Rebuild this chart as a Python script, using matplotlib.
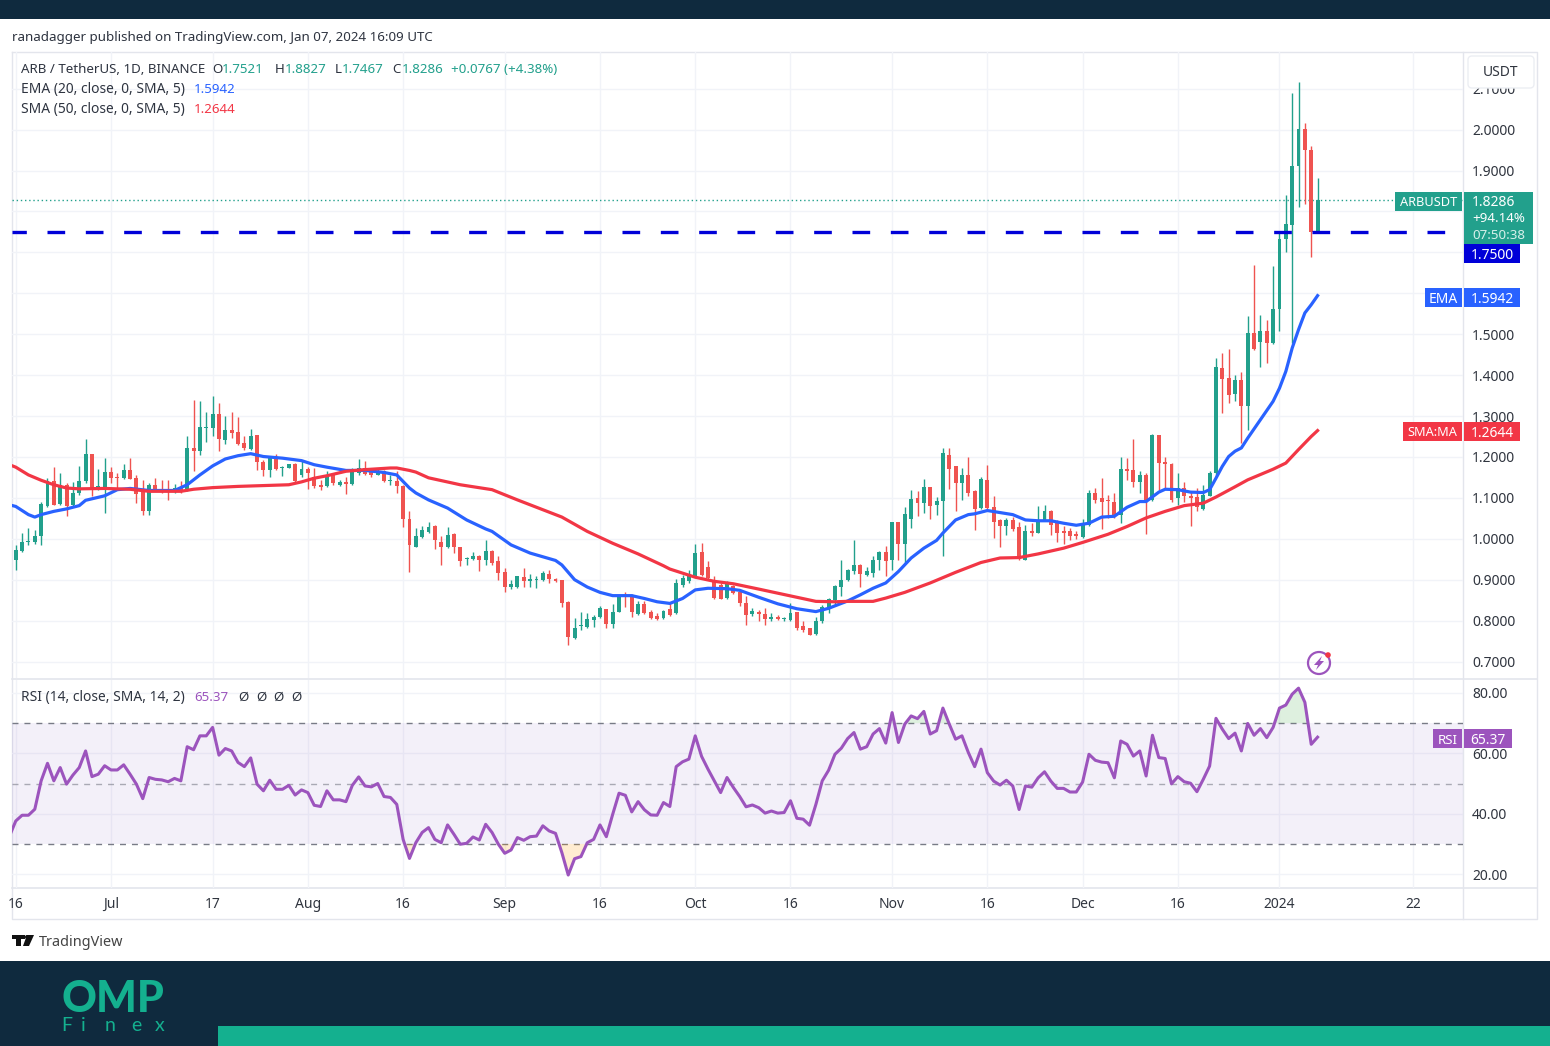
from matplotlib import pyplot as plt
from matplotlib.patches import Circle, FancyBboxPatch, Polygon, Rectangle
import numpy as np

W, H = 1550, 1046

# candles, one per day, Jun 16 2023 (day -15) to Jan 7 2024 (day 190), day 0 = Jul 1
opens = [
    .949, .971, .993, .993, 1.006, 1.081, 1.140, 1.086, 1.132, 1.083,
    1.112, 1.140, 1.208, 1.121, 1.126, 1.163, 1.151, 1.148, 1.169, 1.148,
    1.116, 1.067, 1.132, 1.121, 1.121, 1.116, 1.124, 1.120, 1.222, 1.214,
    1.271, 1.271, 1.305, 1.242, 1.267, 1.262, 1.234, 1.220, 1.253, 1.187,
    1.167, 1.200, 1.173, 1.174, 1.183, 1.155, 1.170, 1.150, 1.132, 1.128,
    1.155, 1.132, 1.139, 1.133, 1.161, 1.173, 1.162, 1.156, 1.165, 1.140,
    1.142, 1.130, 1.048, .981, 1.004, 1.017, 1.032, .993, .980, 1.011,
    .980, .950, .950, .958, .947, .971, .945, .918, .882, .882,
    .906, .896, .900, .900, .914, .901, .898, .846, .757, .786,
    .784, .802, .808, .828, .792, .822, .863, .863, .817, .841,
    .820, .812, .807, .828, .818, .888, .896, .908, .967, .932,
    .900, .888, .855, .885, .870, .844, .816, .822, .817, .804,
    .808, .804, .802, .821, .787, .782, .767, .798, .830, .851,
    .883, .900, .920, .936, .911, .916, .947, .967, .949, 1.042,
    .988, 1.048, 1.099, 1.087, 1.126, 1.082, 1.093, 1.205, 1.177, 1.136,
    1.155, 1.117, 1.075, 1.144, 1.077, 1.045, 1.030, 1.046, 1.028, .949,
    1.019, 1.015, 1.046, 1.067, 1.038, 1.018, 1.018, 1.011, 1.004, 1.033,
    1.112, 1.099, 1.095, 1.091, 1.059, 1.171, 1.167, 1.138, 1.155, 1.095,
    1.253, 1.187, 1.183, 1.099, 1.124, 1.105, 1.102, 1.073, 1.105, 1.161,
    1.417, 1.393, 1.355, 1.387, 1.325, 1.503, 1.482, 1.509, 1.478, 1.562,
    1.733, 1.768, 1.910, 2.002, 1.949, 1.7521,
]
highs = [
    .985, 1.014, 1.026, 1.022, 1.089, 1.148, 1.175, 1.161, 1.136, 1.138,
    1.178, 1.244, 1.208, 1.170, 1.197, 1.175, 1.161, 1.183, 1.197, 1.156,
    1.143, 1.136, 1.148, 1.144, 1.144, 1.134, 1.140, 1.250, 1.340, 1.336,
    1.309, 1.350, 1.333, 1.299, 1.311, 1.297, 1.252, 1.268, 1.253, 1.193,
    1.203, 1.208, 1.178, 1.183, 1.185, 1.193, 1.175, 1.173, 1.144, 1.165,
    1.156, 1.144, 1.152, 1.173, 1.195, 1.191, 1.165, 1.173, 1.169, 1.156,
    1.165, 1.132, 1.069, 1.026, 1.032, 1.040, 1.034, 1.006, 1.029, 1.014,
    .981, .955, .967, .961, .998, .973, .959, .928, .900, .910,
    .928, .914, .910, .920, .923, .903, .900, .848, .806, .822,
    .818, .814, .836, .828, .841, .863, .869, .865, .847, .847,
    .826, .818, .826, .843, .901, .912, .924, .987, .989, .946,
    .908, .892, .896, .888, .874, .859, .830, .825, .830, .818,
    .814, .810, .843, .822, .798, .783, .810, .839, .855, .888,
    .949, .927, .998, .938, .932, .957, .969, .983, 1.042, 1.042,
    1.077, 1.120, 1.116, 1.146, 1.126, 1.102, 1.222, 1.222, 1.178, 1.173,
    1.199, 1.120, 1.151, 1.181, 1.104, 1.048, 1.051, 1.053, 1.042, 1.034,
    1.038, 1.081, 1.083, 1.071, 1.046, 1.030, 1.026, 1.018, 1.048, 1.120,
    1.124, 1.148, 1.108, 1.112, 1.201, 1.197, 1.244, 1.165, 1.161, 1.257,
    1.254, 1.201, 1.185, 1.161, 1.138, 1.116, 1.124, 1.132, 1.165, 1.442,
    1.454, 1.464, 1.401, 1.407, 1.544, 1.670, 1.548, 1.535, 1.666, 1.747,
    1.839, 2.090, 2.116, 2.016, 1.959, 1.8827,
]
lows = [
    .924, .968, .984, .988, .984, 1.077, 1.083, 1.083, 1.055, 1.081,
    1.108, 1.136, 1.104, 1.120, 1.064, 1.136, 1.124, 1.147, 1.146, 1.087,
    1.059, 1.059, 1.116, 1.112, 1.095, 1.112, 1.112, 1.116, 1.165, 1.205,
    1.236, 1.250, 1.214, 1.232, 1.246, 1.229, 1.216, 1.218, 1.169, 1.154,
    1.151, 1.167, 1.154, 1.174, 1.138, 1.152, 1.121, 1.124, 1.118, 1.126,
    1.132, 1.130, 1.110, 1.131, 1.156, 1.156, 1.151, 1.155, 1.138, 1.132,
    1.113, 1.028, .918, .980, 1.002, 1.015, .975, .935, .977, .965,
    .934, .936, .947, .920, .935, .936, .900, .871, .877, .880,
    .882, .882, .880, .897, .892, .895, .833, .741, .755, .776,
    .783, .784, .806, .782, .783, .821, .833, .810, .814, .817,
    .804, .802, .805, .812, .817, .883, .893, .906, .910, .900,
    .852, .852, .852, .865, .836, .790, .812, .798, .790, .800,
    .802, .800, .800, .778, .773, .764, .765, .795, .818, .836,
    .859, .896, .914, .881, .908, .906, .924, .910, .924, .949,
    .941, 1.026, 1.055, 1.064, 1.048, 1.059, .958, 1.121, 1.069, 1.094,
    1.105, 1.022, 1.073, 1.073, 1.002, .981, 1.008, 1.020, .949, .947,
    1.007, 1.014, 1.044, 1.010, .993, .988, .996, .999, 1.002, 1.032,
    1.087, 1.024, 1.051, 1.051, 1.038, 1.144, 1.126, 1.112, 1.012, 1.093,
    1.120, 1.124, 1.091, 1.083, 1.089, 1.032, 1.067, 1.071, 1.104, 1.150,
    1.307, 1.333, 1.336, 1.234, 1.267, 1.462, 1.419, 1.430, 1.477, 1.509,
    1.700, 1.478, 1.811, 1.819, 1.689, 1.7467,
]
closes = [
    .973, .993, .995, 1.006, 1.086, 1.140, 1.083, 1.132, 1.079, 1.112,
    1.140, 1.208, 1.124, 1.128, 1.163, 1.148, 1.148, 1.169, 1.147, 1.110,
    1.067, 1.132, 1.121, 1.116, 1.116, 1.124, 1.116, 1.222, 1.214, 1.272,
    1.274, 1.305, 1.245, 1.267, 1.258, 1.231, 1.222, 1.252, 1.187, 1.167,
    1.201, 1.170, 1.175, 1.183, 1.142, 1.170, 1.161, 1.130, 1.126, 1.156,
    1.136, 1.139, 1.134, 1.167, 1.173, 1.158, 1.156, 1.163, 1.140, 1.144,
    1.128, 1.048, .985, 1.006, 1.022, 1.029, .996, .981, 1.010, .980,
    .946, .953, .957, .949, .971, .941, .916, .882, .890, .908,
    .896, .902, .901, .916, .901, .896, .844, .761, .783, .790,
    .804, .808, .830, .792, .822, .863, .859, .822, .841, .818,
    .806, .805, .824, .814, .892, .904, .910, .965, .912, .904,
    .855, .853, .892, .867, .843, .814, .824, .817, .804, .810,
    .804, .806, .818, .782, .778, .765, .800, .833, .852, .885,
    .900, .924, .936, .914, .920, .949, .967, .945, 1.042, .988,
    1.060, 1.097, 1.087, 1.126, 1.081, 1.092, 1.209, 1.170, 1.136, 1.155,
    1.112, 1.073, 1.146, 1.075, 1.042, 1.030, 1.046, 1.024, .950, 1.020,
    1.014, 1.046, 1.067, 1.034, 1.015, 1.014, 1.007, 1.006, 1.036, 1.112,
    1.095, 1.090, 1.092, 1.059, 1.171, 1.165, 1.138, 1.155, 1.094, 1.253,
    1.185, 1.183, 1.095, 1.124, 1.104, 1.099, 1.077, 1.108, 1.161, 1.419,
    1.390, 1.352, 1.387, 1.325, 1.503, 1.465, 1.509, 1.478, 1.562, 1.733,
    1.770, 1.912, 2.002, 1.949, 1.749, 1.8286,
]

ema_days = [
    -16, -15, -13, -12, -11, -9, -7, -5, -4, -1, 1, 3, 6, 10, 12, 14, 16, 18, 20, 22,
    24, 27, 30, 32, 34, 37, 40, 43, 45, 47, 48, 50, 53, 56, 59, 60, 63, 66, 70, 71,
    73, 75, 77, 79, 82, 84, 86, 88, 90, 92, 94, 97, 99, 102, 105, 108, 111, 113, 116, 118,
    120, 122, 124, 126, 128, 130, 131, 133, 135, 136, 138, 140, 142, 144, 146, 148, 150, 152, 154, 156,
    158, 160, 162, 163, 165, 166, 168, 170, 172, 173, 174, 175, 176, 177, 178, 179, 181, 183, 184, 185,
    186, 187, 188, 189, 190,
]
ema_values = [
    1.083, 1.079, 1.059, 1.053, 1.059, 1.067, 1.073, 1.081, 1.094, 1.105, 1.120, 1.123, 1.118, 1.118, 1.132, 1.156, 1.178, 1.195, 1.203, 1.208,
    1.201, 1.197, 1.191, 1.181, 1.175, 1.167, 1.167, 1.162, 1.156, 1.124, 1.112, 1.095, 1.075, 1.046, 1.024, 1.018, .985, .965, .947, .936,
    .900, .882, .869, .861, .861, .854, .846, .842, .854, .875, .879, .878, .874, .857, .841, .829, .822, .830, .848, .863,
    .879, .892, .920, .953, .977, .996, 1.014, 1.046, 1.059, 1.061, 1.069, 1.064, 1.059, 1.046, 1.044, 1.044, 1.038, 1.033, 1.038, 1.053,
    1.055, 1.077, 1.091, 1.091, 1.114, 1.121, 1.120, 1.114, 1.113, 1.120, 1.148, 1.177, 1.201, 1.214, 1.222, 1.246, 1.291, 1.336, 1.368, 1.409,
    1.466, 1.511, 1.552, 1.572, 1.5942,
]
sma_days = [
    -16, -15, -13, -11, -9, -7, -5, -1, 3, 6, 11, 13, 16, 20, 24, 28, 30, 32, 34, 37,
    40, 44, 45, 47, 48, 50, 55, 60, 64, 71, 75, 79, 83, 87, 88, 92, 95, 98, 102, 105,
    108, 111, 114, 116, 120, 122, 125, 129, 133, 137, 140, 143, 146, 150, 153, 157, 160, 163, 166, 169,
    172, 174, 177, 179, 183, 185, 187, 189, 190,
]
sma_values = [
    1.181, 1.175, 1.156, 1.143, 1.132, 1.124, 1.122, 1.123, 1.121, 1.116, 1.116, 1.121, 1.125, 1.128, 1.130, 1.132, 1.139, 1.148, 1.154, 1.165,
    1.169, 1.173, 1.173, 1.167, 1.163, 1.149, 1.132, 1.120, 1.095, 1.053, 1.018, .989, .963, .934, .926, .906, .896, .890, .877, .867,
    .857, .847, .846, .847, .847, .855, .869, .892, .918, .942, .953, .954, .963, .977, .991, 1.011, 1.030, 1.051, 1.067, 1.081,
    1.087, 1.102, 1.127, 1.144, 1.170, 1.185, 1.218, 1.250, 1.2644,
]

# RSI starts one day earlier, its line runs to the left edge of the pane
rsi_values = [
    32.5,
    37.6, 39.5, 39.5, 41.5, 50.9, 56.7, 50.9, 55.3, 49.8, 52.8,
    55.3, 60.8, 52.3, 53.1, 55.9, 54.5, 54.5, 56.2, 53.1, 49.8,
    45.0, 52.0, 51.4, 51.2, 50.6, 51.7, 50.9, 62.2, 61.2, 65.8,
    65.8, 68.6, 59.4, 61.6, 60.8, 57.0, 55.6, 58.5, 49.8, 47.6,
    51.1, 48.1, 48.1, 49.4, 46.2, 47.9, 47.0, 42.8, 42.4, 47.6,
    44.6, 44.6, 44.0, 49.4, 52.2, 49.2, 48.9, 50.0, 45.7, 45.4,
    43.1, 31.5, 25.2, 30.4, 33.8, 35.4, 31.5, 30.4, 36.3, 33.2,
    29.9, 30.2, 32.3, 31.3, 36.5, 33.8, 29.9, 26.9, 28.0, 32.1,
    31.2, 32.4, 32.6, 36.0, 34.3, 33.5, 27.1, 19.7, 25.1, 25.8,
    30.4, 31.5, 36.3, 32.4, 39.8, 46.8, 46.1, 40.6, 44.0, 41.3,
    39.6, 39.5, 43.7, 42.4, 55.6, 57.2, 58.1, 65.8, 59.0, 54.8,
    50.9, 47.0, 52.0, 48.7, 45.7, 42.3, 42.9, 42.0, 40.2, 40.9,
    40.2, 40.4, 44.3, 38.5, 38.2, 36.2, 43.1, 50.9, 54.4, 59.7,
    61.7, 64.9, 66.9, 61.4, 62.2, 66.4, 68.2, 63.4, 73.5, 63.6,
    69.7, 72.4, 71.5, 73.9, 66.4, 67.5, 75.0, 69.7, 64.7, 65.8,
    60.3, 55.6, 61.4, 53.6, 50.8, 49.5, 51.1, 49.2, 41.4, 49.2,
    48.8, 51.9, 53.9, 50.8, 48.4, 48.4, 47.2, 47.2, 50.5, 59.7,
    57.7, 57.1, 56.9, 51.9, 64.1, 63.0, 59.1, 60.8, 52.5, 66.0,
    58.6, 58.3, 49.9, 52.3, 50.6, 50.1, 47.3, 51.4, 55.8, 71.6,
    68.0, 64.9, 66.7, 60.8, 69.9, 66.0, 68.2, 65.2, 68.6, 75.0,
    76.0, 79.6, 81.6, 76.9, 63.0, 65.37,
]

price_ticks = [.7, .8, .9, 1.0, 1.1, 1.2, 1.3, 1.4, 1.5, 1.6, 1.7, 1.8, 1.9, 2.0, 2.1]
price_tick_labels = ['0.7000', '0.8000', '0.9000', '1.0000', '1.1000', '1.2000', '1.3000', '1.4000',
                     '1.5000', '', '', '', '1.9000', '2.0000', '2.1000']
rsi_ticks = [20, 40, 60, 80]
rsi_tick_labels = ['20.00', '40.00', '60.00', '80.00']
time_ticks = [-15, 0, 16, 31, 46, 62, 77, 92, 107, 123, 138, 153, 168, 184, 205]
time_labels = ['16', 'Jul', '17', 'Aug', '16', 'Sep', '16', 'Oct', '16', 'Nov', '16', 'Dec', '16', '2024', '22']

level_price = 1.75

NAVY = '#0f2a3e'
MINT = '#14b08f'
UP = '#22a08c'
DOWN = '#ef5350'
BLUE = '#2962ff'
RED = '#f23645'
PURPLE = '#9c54bd'
GRID = '#f1f3f8'
BORDER = '#e3e5ec'
TEXT = '#2e3440'
AXIS_TEXT = '#30353f'

plt.rcParams['font.family'] = ['Noto Sans', 'DejaVu Sans']


def pane(fig, y0, y1):
    ax = fig.add_axes([12 / W, 1 - y1 / H, (1463 - 12) / W, (y1 - y0) / H], zorder=1)
    ax.patch.set_alpha(0)
    for spine in ax.spines.values():
        spine.set_visible(False)
    ax.set_xlim(-15.59, 212.9)
    ax.set_axisbelow(True)
    ax.grid(True, color=GRID, lw=1)
    ax.yaxis.tick_right()
    ax.tick_params(length=0, labelsize=10, labelcolor=AXIS_TEXT)
    ax.tick_params(axis='y', pad=6.5)
    return ax


def box(ax, x0, y0, x1, y1, color, label=None, fc='white', size=10):
    ax.add_patch(Rectangle((x0, y0), x1 - x0, y1 - y0, color=color, lw=0))
    if label:
        ax.text((x0 + x1) / 2, (y0 + y1) / 2, label, color=fc, fontsize=size, ha='center', va='center_baseline')


def main():
    days = np.arange(-15, 191)
    rsi_days = np.arange(-16, 191)
    o, h, l, c = map(np.array, (opens, highs, lows, closes))
    rsi = np.array(rsi_values)
    colors = [UP if close >= open_ else DOWN for open_, close in zip(o, c)]

    fig = plt.figure(figsize=(W / 100, H / 100), dpi=100, facecolor='white')

    # page furniture, drawn in pixel coordinates
    bg = fig.add_axes([0, 0, 1, 1], zorder=0)
    bg.set_xlim(0, W)
    bg.set_ylim(H, 0)
    bg.axis('off')
    bg.add_patch(Rectangle((0, 0), W, 19, color=NAVY, lw=0))
    bg.add_patch(Rectangle((0, 961), W, 85, color=NAVY, lw=0))
    bg.add_patch(Rectangle((218, 1026), W - 218, 20, color=MINT, lw=0))
    bg.plot([12, 1537, 1537, 12, 12], [52, 52, 919, 919, 52], color=BORDER, lw=1)
    bg.plot([12, 1537], [679, 679], color=BORDER, lw=1.2)
    bg.plot([12, 1537], [888, 888], color=BORDER, lw=1.2)
    bg.plot([1463, 1463], [52, 919], color=BORDER, lw=1)

    ax = pane(fig, 52, 678)
    ax.set_ylim(0.6597, 2.1897)
    ax.set_yticks(price_ticks, price_tick_labels)
    ax.set_xticks(time_ticks, [])
    ax.axhline(closes[-1], color=UP, lw=1, ls=(0, (1, 2)), zorder=1)
    ax.axhline(level_price, color='#0000d8', lw=2.4, ls=(1, (5.3, 6.2)), dash_capstyle='butt', zorder=4)
    ax.vlines(days, l, h, colors=colors, lw=1, zorder=2)
    ax.bar(days, np.abs(c - o), bottom=np.minimum(o, c), width=0.62, color=colors, zorder=2)
    ax.plot(ema_days, ema_values, color=BLUE, lw=2.3, zorder=3)
    ax.plot(sma_days, sma_values, color=RED, lw=2.3, zorder=3)

    ax2 = pane(fig, 680, 888)
    ax2.set_ylim(15.4, 84.3)
    ax2.set_yticks(rsi_ticks, rsi_tick_labels)
    ax2.set_xticks(time_ticks, time_labels)
    ax2.tick_params(axis='x', pad=6.3)
    ax2.get_xticklabels()[time_labels.index('2024')].set_fontweight('bold')
    ax2.axhspan(30, 70, color='#7e57c2', alpha=0.085, lw=0, zorder=1)
    for level, shade in ((70, 1), (50, 0.6), (30, 1)):
        ax2.axhline(level, color='#787b86', lw=1, ls=(0, (4.3, 4.3)), alpha=shade, zorder=1)
    ax2.fill_between(rsi_days, 70, rsi, where=rsi > 70, interpolate=True, color='#4caf50', alpha=0.18, lw=0)
    ax2.fill_between(rsi_days, 30, rsi, where=rsi < 30, interpolate=True, color='#ff9800', alpha=0.18, lw=0)
    ax2.plot(rsi_days, rsi, color=PURPLE, lw=2.2, zorder=3)

    # labels above both panes
    top = fig.add_axes([0, 0, 1, 1], zorder=2)
    top.set_xlim(0, W)
    top.set_ylim(H, 0)
    top.axis('off')
    top.patch.set_alpha(0)

    def label(x, y, s, color=TEXT, size=9.6, **kw):
        top.text(x, y, s, color=color, fontsize=size, va='center_baseline', **kw)

    label(12, 36, 'ranadagger published on TradingView.com, Jan 07, 2024 16:09 UTC')
    label(21, 68, 'ARB / TetherUS, 1D, BINANCE')
    for x, name, value in ((212, 'O', '1.7521'), (275, 'H', '1.8827'), (335, 'L', '1.7467'), (392, 'C', '1.8286')):
        label(x, 68, name)
        label(x + (7 if name == 'L' else 10), 68, value, color=UP)
    label(451, 68, '+0.0767 (+4.38%)', color=UP)
    label(21, 88, 'EMA (20, close, 0, SMA, 5)', size=9.95)
    label(194, 88, '1.5942', color=BLUE)
    label(21, 108, 'SMA (50, close, 0, SMA, 5)', size=9.95)
    label(194, 108, '1.2644', color=RED)
    label(21, 696, 'RSI (14, close, SMA, 14, 2)', size=9.95)
    label(194, 696, '65.37', color=PURPLE)
    for x in (238, 256, 273, 291):
        label(x, 696, '\u00d8')

    top.add_patch(FancyBboxPatch((1470, 58), 62, 28, boxstyle='round,pad=2,rounding_size=4',
                                 fc='white', ec='#eceef3', lw=1))
    label(1501, 71, 'USDT', size=10, ha='center', color=AXIS_TEXT)

    box(top, 1395, 192, 1462, 211, UP, 'ARBUSDT', size=9.2)
    box(top, 1464, 192, 1533, 244, UP)
    label(1472, 201, '1.8286', color='white', size=10)
    label(1472, 217, '+94.14%', color='white', size=9.6)
    label(1472, 234, '07:50:38', color='#d7f0ea', size=9.6)
    box(top, 1464, 244, 1520, 263, '#0000d8', '1.7500')
    box(top, 1425, 288, 1462, 307, BLUE, 'EMA')
    box(top, 1464, 288, 1520, 307, BLUE, '1.5942')
    box(top, 1403, 422, 1462, 441, RED, 'SMA:MA', size=9.2)
    box(top, 1464, 422, 1520, 441, RED, '1.2644')
    box(top, 1433, 729, 1462, 748, PURPLE, 'RSI', size=9.6)
    box(top, 1464, 729, 1512, 748, PURPLE, '65.37')

    # snapshot icon
    top.add_patch(Circle((1319, 663), 11, fc='none', ec=PURPLE, lw=1.6))
    top.add_patch(Polygon([(1322, 656), (1314, 665), (1318, 665), (1316, 670), (1324, 661), (1320, 661)],
                          color=PURPLE, lw=0))
    top.add_patch(Circle((1328, 655), 2.8, color=RED, lw=0))

    # TradingView logo
    top.add_patch(Rectangle((12, 935), 13, 4, color='#111111', lw=0))
    top.add_patch(Rectangle((16, 935), 5, 11, color='#111111', lw=0))
    top.add_patch(Circle((27, 937), 2, color='#111111', lw=0))
    top.add_patch(Polygon([(27, 935), (34, 935), (29, 946), (23, 946)], color='#111111', lw=0))
    label(39, 940, 'TradingView', size=10.4, color='#444444')

    # OMP Finex logo
    top.text(113, 996, 'OMP', color=MINT, fontsize=31, fontweight='black', family='Lato',
             ha='center', va='center_baseline')
    for x, letter in ((67, 'F'), (83, 'i'), (110, 'n'), (136, 'e'), (160, 'x')):
        top.text(x, 1024, letter, color=MINT, fontsize=14, family='Lato', ha='center', va='center_baseline')

    fig.savefig('out.png', dpi=100)


if __name__ == '__main__':
    main()
